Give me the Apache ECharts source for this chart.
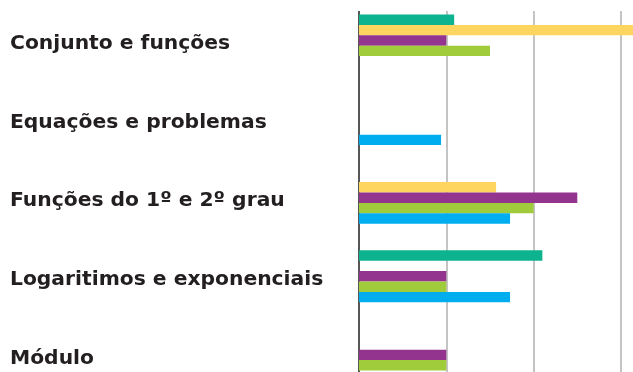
<!DOCTYPE html>
<html>
<head>
<meta charset="utf-8">
<script src="https://cdn.jsdelivr.net/npm/echarts@6/dist/echarts.min.js"></script>
<style>
  html, body { margin: 0; padding: 0; background: #fff; }
  #chart { width: 633px; height: 372px; }
</style>
</head>
<body>
<div id="chart"></div>
<script>
const categories = [
  'Conjunto e funções',
  'Equações e problemas',
  'Funções do 1º e 2º grau',
  'Logaritimos e exponenciais',
  'Módulo'
];

// values, in grid units ('-' = no bar)
const teal = [1.09, '-', '-', 2.1, '-'];
const yellow = [3.3, '-', 1.57, '-', '-'];
const purple = [1, '-', 2.5, 1, 1];
const green = [1.5, '-', 2, 1, 1];
const blue = ['-', 0.94, 1.73, 1.73, '-'];

const seriesColors = ['#0db38e', '#fdd55f', '#93348f', '#a0cb3b', '#00aeef'];

const chart = echarts.init(document.getElementById('chart'));

const mkBar = (name, data, color) => ({
  name: name,
  type: 'bar',
  data: data,
  barWidth: 10.4,
  barGap: '0%',
  itemStyle: { color: color },
  silent: true
});

chart.setOption({
  animation: false,
  grid: {
    left: 359,
    top: 1.2,
    width: 305.6,
    height: 393,
    outerBoundsMode: 'none',
    containLabel: false
  },
  xAxis: {
    type: 'value',
    min: 0,
    max: 3.5,
    interval: 1,
    axisLabel: { show: false },
    axisTick: { show: false },
    axisLine: { show: false },
    splitLine: { show: true, lineStyle: { color: '#b0b0b0', width: 1.5 } }
  },
  yAxis: {
    type: 'category',
    inverse: true,
    data: categories,
    axisTick: { show: false },
    axisLine: { show: true, lineStyle: { color: '#333', width: 1.5 } },
    axisLabel: {
      align: 'left',
      verticalAlign: 'top',
      lineHeight: 7,
      margin: 349,
      fontFamily: 'DejaVu Sans',
      fontWeight: 'bold',
      fontSize: 20.3,
      color: '#231f20'
    }
  },
  series: [
    mkBar('Série 1', teal, seriesColors[0]),
    mkBar('Série 2', yellow, seriesColors[1]),
    mkBar('Série 3', purple, seriesColors[2]),
    mkBar('Série 4', green, seriesColors[3]),
    mkBar('Série 5', blue, seriesColors[4])
  ],
  // the lines in the picture start a little below the top edge
  graphic: [{
    type: 'rect',
    shape: { x: 345, y: 0, width: 300, height: 11 },
    style: { fill: '#fff' },
    z: 100
  }]
});
</script>
</body>
</html>
